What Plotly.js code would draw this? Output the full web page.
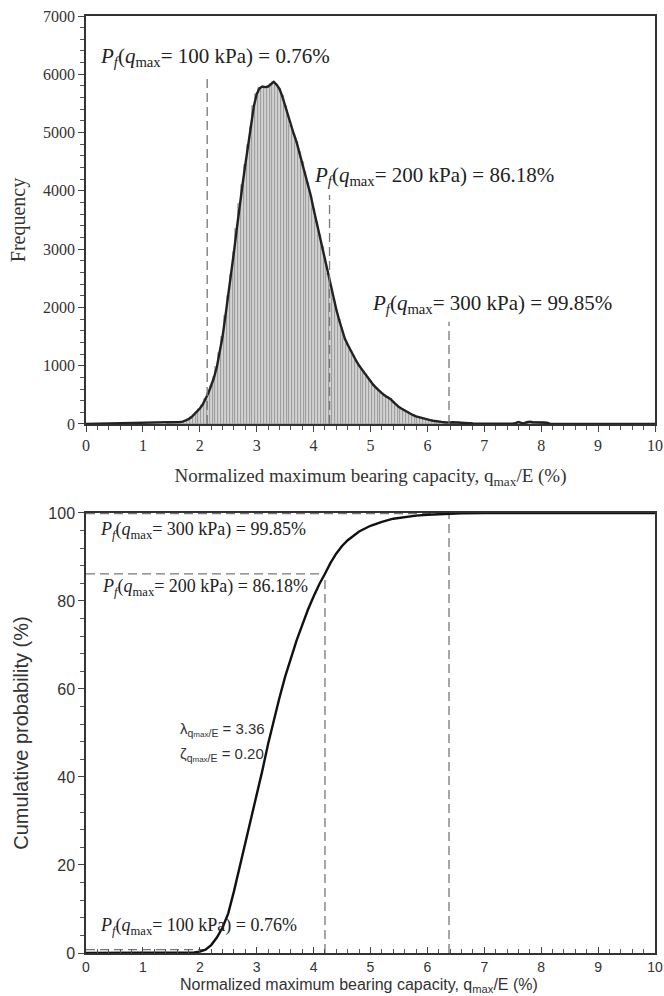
<!DOCTYPE html>
<html><head><meta charset="utf-8">
<script src="https://cdn.plot.ly/plotly-3.0.1.min.js"></script>
<style>html,body{margin:0;padding:0;background:#fff}#chart{width:664px;height:996px}</style>
</head><body><div id="chart"></div>
<script>
// ---- Histogram (top) ----
const binX = [1.45,1.50,1.55,1.60,1.65,1.70,1.75,1.80,1.85,1.90,1.95,2.00,2.05,2.10,2.15,2.20,2.25,2.30,2.35,2.40,2.45,2.50,2.55,2.60,2.65,2.70,2.75,2.80,2.85,2.90,2.95,3.00,3.05,3.10,3.15,3.20,3.25,3.30,3.35,3.40,3.45,3.50,3.55,3.60,3.65,3.70,3.75,3.80,3.85,3.90,3.95,4.00,4.05,4.10,4.15,4.20,4.25,4.30,4.35,4.40,4.45,4.50,4.55,4.60,4.65,4.70,4.75,4.80,4.85,4.90,4.95,5.00,5.05,5.10,5.15,5.20,5.25,5.30,5.35,5.40,5.45,5.50,5.55,5.60,5.65,5.70,5.75,5.80,5.85,5.90,5.95,6.00,6.05,6.10,6.15,6.20,6.25,6.30,6.35,6.40,6.45,6.50,6.55,6.60,6.65,6.70,6.75,6.80,6.85,6.90,6.95,7.00,7.05,7.10,7.15,7.20,7.25,7.30,7.35,7.40,7.45,7.50,7.55,7.60,7.65,7.70,7.75,7.80,7.85,7.90,7.95,8.00,8.05,8.10,8.15,8.20];
const frequency = [20,25,25,30,35,40,55,80,115,160,210,265,330,420,530,660,800,980,1220,1500,1850,2200,2560,2950,3350,3780,4100,4450,4780,5100,5450,5660,5760,5790,5780,5790,5830,5870,5820,5750,5620,5450,5280,5120,4980,4840,4660,4490,4320,4130,3920,3690,3470,3250,3030,2800,2580,2360,2150,1960,1780,1600,1460,1360,1260,1170,1080,1000,930,860,790,730,670,620,570,530,490,460,430,380,330,290,260,230,200,175,150,130,115,100,85,75,65,55,45,40,35,30,25,25,30,25,30,20,15,12,10,8,6,5,4,3,3,2,2,2,2,2,2,2,3,5,15,35,20,10,30,40,30,30,30,30,30,20,5,0];

// ---- Cumulative probability (bottom) ----
const cdfX = [0,1,1.5,1.8,1.9,2.0,2.1,2.2,2.3,2.4,2.5,2.6,2.7,2.8,2.9,3.0,3.1,3.2,3.3,3.4,3.5,3.6,3.7,3.8,3.9,4.0,4.1,4.2,4.3,4.4,4.5,4.6,4.8,5.0,5.2,5.4,5.6,5.8,6.0,6.2,6.38,6.6,7,7.5,8,9,10];
const cdfP = [0,0,0,0.05,0.15,0.3,0.76,1.8,3.5,5.8,9.0,14,19.5,24.5,30,35.5,41.5,47.5,53,58,62.8,67,71,74.5,78,81,83.8,86.18,88.7,90.8,92.5,93.8,95.8,97.1,98.0,98.7,99.1,99.4,99.6,99.75,99.85,99.92,99.97,100,100,100,100];

// ---- Failure probability markers ----
const pfLabels = ['100 kPa','200 kPa','300 kPa'];
const pfValues = ['0.76%','86.18%','99.85%'];
const pfTopX = [2.13, 4.28, 6.38];       // dashed lines on histogram
const pfTopH = [5950, 3930, 1755];       // their top heights
const pfBotX = [2.1, 4.2, 6.38];          // capacities on CDF
const pfBotP = [0.76, 86.18, 99.85];      // probabilities

const serif = 'Liberation Serif, serif';
const sans = 'Liberation Sans, sans-serif';
const xTitle = 'Normalized maximum bearing capacity, q<sub>max</sub>/E (%)';

function pfText(i){
  return '<i>P</i><sub><i>f</i></sub>(<i>q</i><sub>max</sub>= ' + pfLabels[i] + ') = ' + pfValues[i];
}

const traces = [];
traces.push({type:'bar', x:binX, y:frequency, width:0.05, xaxis:'x', yaxis:'y',
  marker:{color:'#d2d2d2', line:{color:'#8c8c8c', width:0.7}}, hoverinfo:'skip'});
traces.push({type:'scatter', mode:'lines', x:[0].concat(binX,[10]), y:[0].concat(frequency,[0]),
  xaxis:'x', yaxis:'y', line:{color:'#222', width:2.4}});

// top dashed verticals
let tx=[], ty=[];
pfTopX.forEach((v,i)=>{ tx.push(v,v,null); ty.push(0,pfTopH[i],null); });
traces.push({type:'scatter', mode:'lines', x:tx, y:ty, xaxis:'x', yaxis:'y',
  line:{color:'#777', width:1.3, dash:'9px,5px'}});

// bottom dashed lines
let bx=[], by=[];
pfBotX.forEach((v,i)=>{ bx.push(0,v,null); by.push(pfBotP[i],pfBotP[i],null); });
bx.push(pfBotX[1],pfBotX[1],null); by.push(0,pfBotP[1],null);
bx.push(pfBotX[2],pfBotX[2],null); by.push(0,100,null);
traces.push({type:'scatter', mode:'lines', x:bx, y:by, xaxis:'x2', yaxis:'y2',
  line:{color:'#777', width:1.3, dash:'9px,5px'}});

traces.push({type:'scatter', mode:'lines', x:cdfX, y:cdfP, xaxis:'x2', yaxis:'y2',
  line:{color:'#111', width:2.4}, cliponaxis:false});

function axisX(font, size, anchor, tickdir){
  return {anchor:anchor, domain:[0,1], range:[0,10], tick0:0, dtick:1,
    ticks:tickdir, ticklen:6, tickcolor:'#444', tickwidth:1,
    minor:{dtick:0.2, ticks:tickdir, ticklen:4, tickcolor:'#555'},
    showline:true, linecolor:'#333', linewidth:1.5, mirror:true,
    showgrid:false, zeroline:false,
    tickfont:{family:font, size:size, color:'#333'}};
}

const xaxisTop = axisX(serif, 16, 'y', 'outside');
xaxisTop.title = {text:xTitle, font:{family:serif, size:19, color:'#333'}, standoff:16};
const xaxisBot = axisX(sans, 14, 'y2', 'inside');

const layout = {
  width:664, height:996,
  margin:{l:86, r:9, t:16, b:43},
  font:{family:serif, size:16, color:'#333'},
  paper_bgcolor:'#fff', plot_bgcolor:'#fff',
  showlegend:false, bargap:0,
  xaxis: xaxisTop,
  yaxis: {anchor:'x', domain:[0.5646,1], range:[0,7000], dtick:1000,
    ticks:'outside', ticklen:6, tickcolor:'#444',
    minor:{dtick:200, ticks:'outside', ticklen:4, tickcolor:'#555'},
    showline:true, linecolor:'#333', linewidth:1.5, mirror:true,
    showgrid:false, zeroline:false,
    tickfont:{family:serif, size:16, color:'#333'},
    title:{text:'Frequency', font:{family:serif, size:20, color:'#333'}, standoff:12}},
  xaxis2: xaxisBot,
  yaxis2: {anchor:'x2', domain:[0,0.4696], range:[0,100], dtick:20,
    ticks:'outside', ticklen:6, tickcolor:'#444',
    minor:{dtick:4, ticks:'outside', ticklen:4, tickcolor:'#555'},
    showline:true, linecolor:'#333', linewidth:1.5, mirror:true,
    showgrid:false, zeroline:false,
    tickfont:{family:sans, size:16, color:'#333'},
    title:{text:'Cumulative probability (%)', font:{family:sans, size:20, color:'#333'}, standoff:14}},
  annotations: [
    {xref:'x', yref:'y', x:0.21, y:6295, text:pfText(0)},
    {xref:'x', yref:'y', x:3.97, y:4254, text:pfText(1)},
    {xref:'x', yref:'y', x:4.99, y:2058, text:pfText(2)},
    {xref:'x2', yref:'y2', x:0.21, y:96.1, text:pfText(2), font:{family:serif, size:18, color:'#222'}},
    {xref:'x2', yref:'y2', x:0.25, y:83, text:pfText(1), font:{family:serif, size:18, color:'#222'}},
    {xref:'x2', yref:'y2', x:0.21, y:6.1, text:pfText(0), font:{family:serif, size:18, color:'#222'}},
    {xref:'x2', yref:'y2', x:1.62, y:50.7, text:'λ<sub>q<span style="font-size:8px">max</span>/E</sub> = 3.36', font:{family:sans, size:15, color:'#333'}},
    {xref:'x2', yref:'y2', x:1.62, y:45.2, text:'ζ<sub>q<span style="font-size:8px">max</span>/E</sub> = 0.20', font:{family:sans, size:15, color:'#333'}},
    {xref:'x2', yref:'paper', x:4.8, y:-0.0345, xanchor:'center', yanchor:'middle', text:xTitle, font:{family:sans, size:16, color:'#333'}}
  ].map(a => Object.assign({showarrow:false, xanchor:'left', yanchor:'middle',
      font:{family:serif, size:21, color:'#222'}}, a))
};

Plotly.newPlot('chart', traces, layout, {displayModeBar:false});
</script></body></html>
